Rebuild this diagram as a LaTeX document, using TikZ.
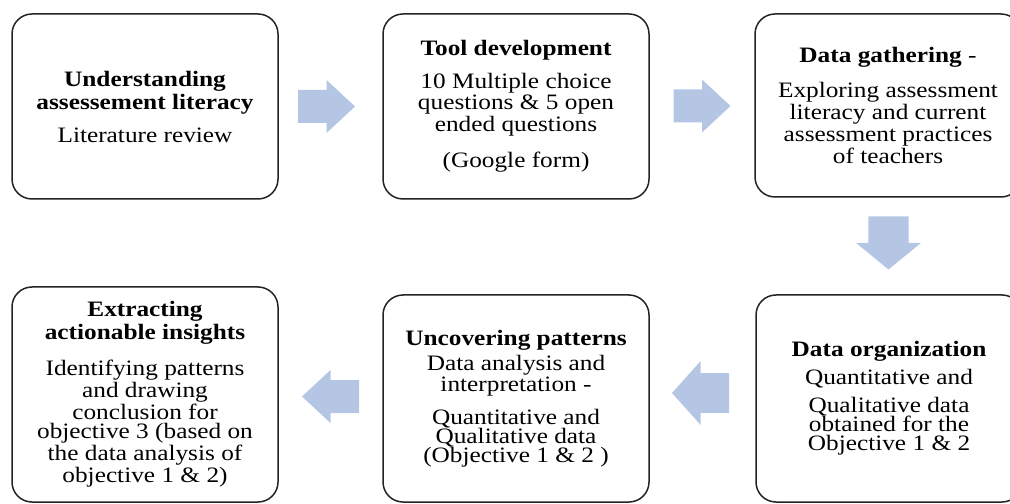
\documentclass[tikz,border=0pt]{standalone}
\usepackage{fontspec}
\setmainfont{Liberation Serif}[FakeStretch=1.15]
\usetikzlibrary{calc}

\definecolor{arrowblue}{RGB}{180,198,228}
\definecolor{boxline}{RGB}{35,35,35}

\tikzset{
  stage/.style={draw=boxline, line width=0.75pt, rounded corners=10pt,
    minimum width=133pt, align=center, inner sep=0pt,
    font=\fontsize{11}{9.6}\selectfont},
  blockarrow/.pic={
    \fill[arrowblue] (-28.5,-16.5) -- (0,-16.5) -- (0,-26.5) -- (28.5,0)
      -- (0,26.5) -- (0,16.5) -- (-28.5,16.5) -- cycle;
  }
}

\begin{document}
\begin{tikzpicture}[x=0.5pt,y=0.5pt]
  \useasboundingbox (0,0) rectangle (1010,503);

  % Stages
  \node[stage, minimum height=92.5pt] (understand) at (145,396.5)
    {\textbf{Understanding}\\[0.9pt]
     \textbf{assessement literacy}\\[5.4pt]
     Literature review};
  \node[stage, minimum height=92.5pt] (tooldev) at (516,396.5)
    {\textbf{Tool development}\\[5.4pt]
     10 Multiple choice\\
     questions \& 5 open\\
     ended questions\\[6.9pt]
     (Google form)};
  \node[stage, minimum height=91.5pt] (gather) at (888,397.5)
    {\textbf{Data gathering} -\\[6.4pt]
     Exploring assessment\\
     literacy and current\\
     assessment practices\\
     of teachers};
  \node[stage, minimum height=103.5pt] (organize) at (889,104.5)
    {\textbf{Data organization}\\[2.9pt]
     Quantitative and\\[4.4pt]
     Qualitative data\\
     obtained for the\\
     Objective 1 \& 2};
  \node[stage, minimum height=103.5pt] (uncover) at (516,104.5)
    {\textbf{Uncovering patterns}\\[1.4pt]
     Data analysis and\\
     interpretation -\\[5.4pt]
     Quantitative and\\
     Qualitative data\\
     (Objective 1 \& 2 )};
  \node[stage, minimum height=107.5pt] (extract) at (145,108.5)
    {\textbf{Extracting}\\[0.4pt]
     \textbf{actionable insights}\\[6.4pt]
     Identifying patterns\\
     and drawing\\
     conclusion for\\
     objective 3 (based on\\
     the data analysis of\\
     objective 1 \& 2)};

  % Arrows
  \pic at ($(understand.east)!0.5!(tooldev.west) + (-4,0)$) {blockarrow};
  \pic at ($(tooldev.east)!0.5!(gather.west)$) {blockarrow};
  \pic[rotate=-90, yscale=1.22, xscale=0.93]
    at ($(gather.south)!0.5!(organize.north) + (0,3)$) {blockarrow};
  \pic[rotate=180, yscale=1.2]
    at ($(organize.west)!0.5!(uncover.east) + (-2,5.5)$) {blockarrow};
  \pic[rotate=180] at ($(uncover.west)!0.5!(extract.east)$) {blockarrow};
\end{tikzpicture}
\end{document}
